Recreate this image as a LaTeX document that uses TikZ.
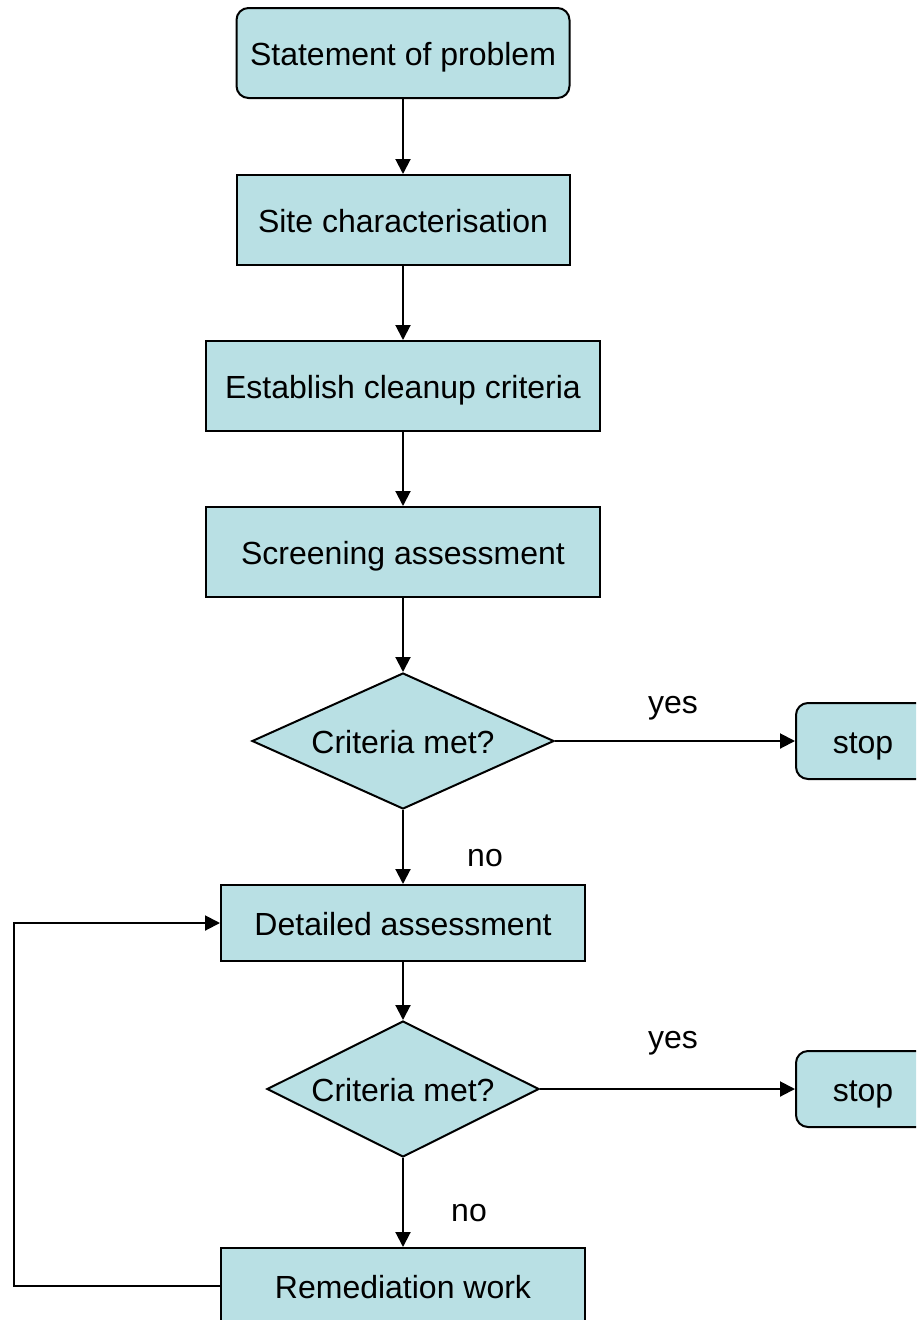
\documentclass[tikz,border=0pt]{standalone}
\usepackage{fontspec}
\setmainfont{Liberation Sans}
\usetikzlibrary{shapes.geometric,arrows.meta}
\definecolor{boxfill}{RGB}{185,224,228}
\begin{document}
\begin{tikzpicture}[x=1pt,y=-1pt,
  font=\fontsize{32}{38}\selectfont,
  every node/.style={inner sep=0pt,text height=24pt,text depth=0pt},
  proc/.style={draw=black,fill=boxfill,line width=2pt,rectangle},
  term/.style={proc,rounded corners=12pt},
  decide/.style={draw=black,fill=boxfill,line width=2pt,diamond,shape aspect=2.2},
  arr/.style={line width=2pt,-{Triangle[length=15pt,width=15pt]}},
  lab/.style={}]
\useasboundingbox (0,0) rectangle (916,1320);
\clip (0,0) rectangle (916,1320);
\node[term,minimum width=333pt,minimum height=90pt] (s1) at (403,53) {Statement of problem};
\node[proc,minimum width=333pt,minimum height=90pt] (s2) at (403,220) {Site characterisation};
\node[proc,minimum width=394pt,minimum height=90pt] (s3) at (403,386) {Establish cleanup criteria};
\node[proc,minimum width=394pt,minimum height=90pt] (s4) at (403,552) {Screening assessment};
\node[decide,minimum width=302pt,minimum height=136pt] (d1) at (403,741) {Criteria met?};
\node[term,minimum width=134pt,minimum height=76pt] (stop1) at (863,741) {stop};
\node[proc,minimum width=364pt,minimum height=76pt] (s5) at (403,923) {Detailed assessment};
\node[decide,minimum width=272pt,minimum height=136pt] (d2) at (403,1089) {Criteria met?};
\node[term,minimum width=134pt,minimum height=76pt] (stop2) at (863,1089) {stop};
\node[proc,minimum width=364pt,minimum height=76pt] (s6) at (403,1286) {Remediation work};
\node[lab] (y1) at (673,701) {yes};
\node[lab] (n1) at (485,854) {no};
\node[lab] (y2) at (673,1036) {yes};
\node[lab] (n2) at (469,1209) {no};
\coordinate (loop) at (14,1285);
\draw[arr] (s1) -- (s2);
\draw[arr] (s2) -- (s3);
\draw[arr] (s3) -- (s4);
\draw[arr] (s4) -- (d1);
\draw[arr] (d1) -- (stop1);
\draw[arr] (d1) -- (s5);
\draw[arr] (s5) -- (d2);
\draw[arr] (d2) -- (stop2);
\draw[arr] (d2) -- (s6);
\draw[arr] (s6.west) -- (s6.west -| loop) |- (s5.west);
\end{tikzpicture}
\end{document}
